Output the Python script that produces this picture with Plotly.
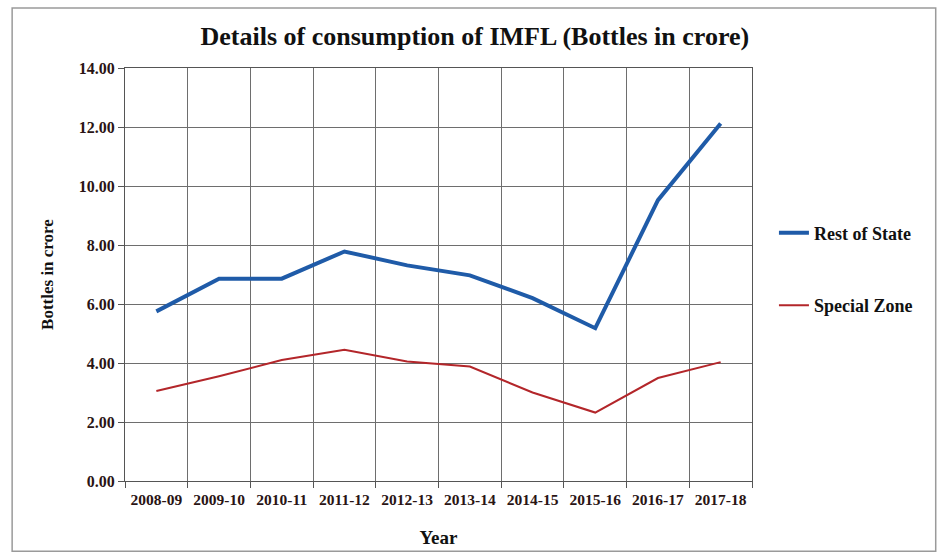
import plotly.graph_objects as go

years = ["2008-09", "2009-10", "2010-11", "2011-12", "2012-13",
         "2013-14", "2014-15", "2015-16", "2016-17", "2017-18"]
rest_of_state = [5.75, 6.86, 6.86, 7.78, 7.31, 6.97, 6.2, 5.18, 9.52, 12.12]
special_zone = [3.05, 3.55, 4.1, 4.45, 4.05, 3.88, 3.0, 2.32, 3.49, 4.03]
y_ticks = [0, 2, 4, 6, 8, 10, 12, 14]

FONT = "Liberation Serif"
TXT = "#2a1414"

fig = go.Figure()
fig.add_trace(go.Scatter(x=years, y=rest_of_state, mode="lines", name="Rest of State",
                         line=dict(color="#1F5BA8", width=4), legendgroup="a"))
fig.add_trace(go.Scatter(x=years, y=special_zone, mode="lines", name="Special Zone",
                         line=dict(color="#B3262A", width=2), legendgroup="b"))

fig.update_layout(
    width=939, height=557,
    margin=dict(l=125, r=187, t=68, b=76),
    paper_bgcolor="white", plot_bgcolor="white",
    font=dict(family=FONT, color=TXT, size=14),
    title=dict(text="Details of consumption of IMFL (Bottles in crore)",
               x=0.558, xref="paper", xanchor="center", y=0.935, yanchor="middle",
               font=dict(family=FONT, size=26, color="#111111", weight="bold")),
    showlegend=True,
    legend=dict(x=1.035, y=0.645, xanchor="left", yanchor="top",
                font=dict(family=FONT, size=18, color="#111111", weight="bold"),
                tracegroupgap=46, bgcolor="rgba(0,0,0,0)"),
    xaxis=dict(type="category", tickson="boundaries", ticks="outside", ticklen=6,
               range=[-0.5, 9.5], ticklabelstandoff=4,
               tickcolor="#555555", showgrid=True, gridcolor="#6e6e6e", gridwidth=1,
               showline=True, linecolor="#555555", mirror=True,
               tickfont=dict(family=FONT, size=15.5, color=TXT, weight="bold"),
               title=dict(text="Year", font=dict(family=FONT, size=19, color="#111111", weight="bold"),
                          standoff=24)),
    yaxis=dict(range=[0, 14], tickvals=y_ticks, tickformat=".2f", ticks="outside", ticklen=6,
               tickcolor="#555555", showgrid=True, gridcolor="#6e6e6e", gridwidth=1,
               showline=True, linecolor="#555555", mirror=True, zeroline=False,
               tickfont=dict(family=FONT, size=16, color=TXT, weight="bold"),
               title=dict(text="Bottles in crore", font=dict(family=FONT, size=17, color="#111111", weight="bold"),
                          standoff=20)),
    shapes=[dict(type="rect", xref="paper", yref="paper", x0=-0.180, x1=1.293, y0=-0.170, y1=1.145,
                 line=dict(color="#9a9a9a", width=1.5), layer="below")],
)

fig.write_html("out.html")
